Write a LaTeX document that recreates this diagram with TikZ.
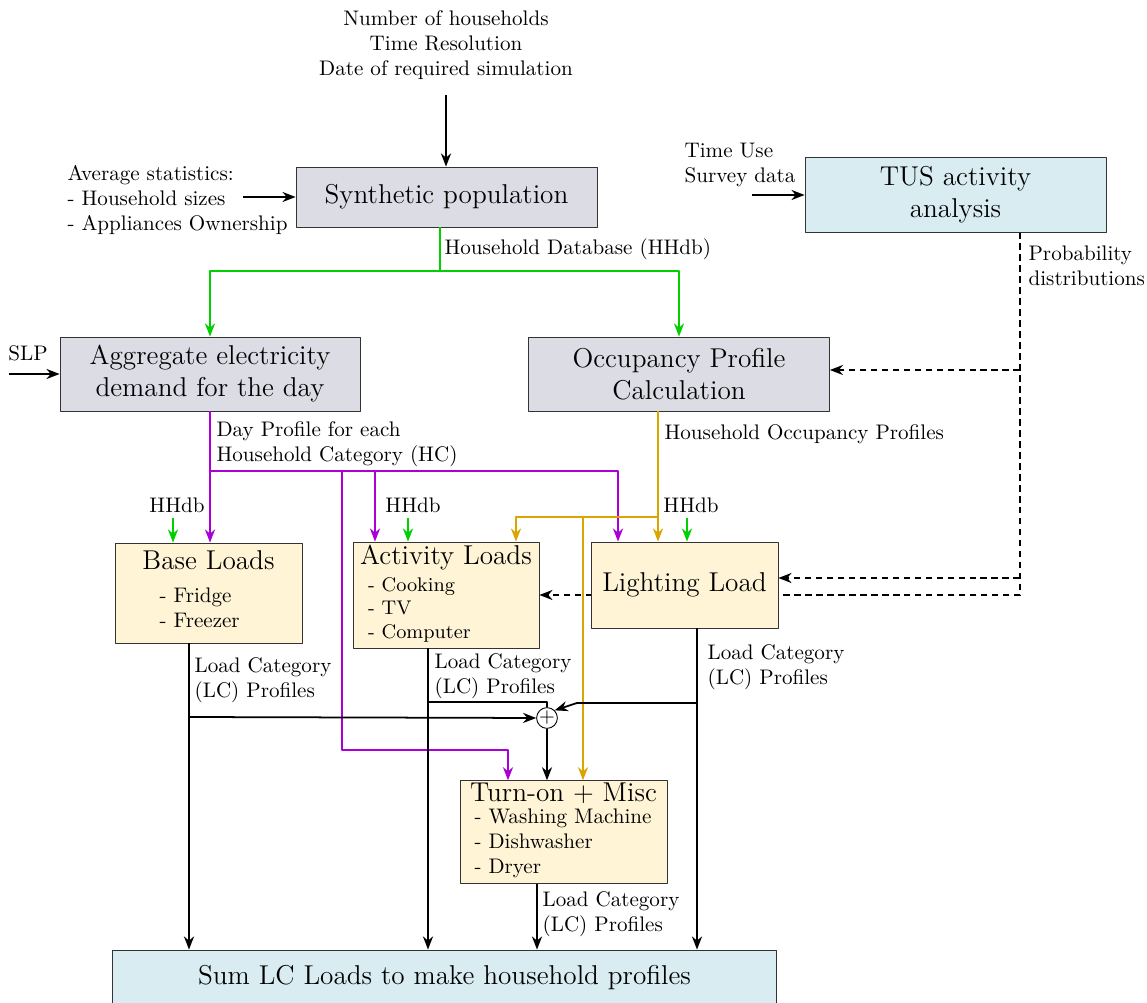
\documentclass[tikz,border=0pt]{standalone}
\usetikzlibrary{arrows.meta,backgrounds}
\definecolor{boxgray}{RGB}{220,221,228}
\definecolor{boxblue}{RGB}{216,236,242}
\definecolor{boxcream}{RGB}{255,245,214}
\definecolor{hhgreen}{RGB}{0,208,0}
\definecolor{hcpurple}{RGB}{170,0,215}
\definecolor{occgold}{RGB}{218,165,0}
\newcommand\lblfont{\fontsize{9.6}{11.4}\selectfont}
\newcommand\boxfont{\fontsize{12.4}{14.6}\selectfont}
\newcommand\itemfont{\fontsize{9}{10.7}\selectfont}
\begin{document}
\begin{tikzpicture}[x=0.016cm,y=-0.016cm,>={Stealth[length=6pt,width=4.6pt]},line join=round,font=\lblfont,
	blockbox/.style={draw=black!80,align=center,font=\boxfont,inner sep=2pt},
	lbl/.style={inner sep=1pt,align=left},
	flow/.style={->,thick},
	hhdb/.style={flow,hhgreen},
	hcline/.style={flow,hcpurple},
	occline/.style={flow,occgold},
	probline/.style={->,thick,densely dashed}]
	\useasboundingbox (0,0) rectangle (1147,1003);
	% blocks
	\node[blockbox,fill=boxgray,minimum width=4.816cm,minimum height=0.96cm] (synpop) at (446.5,197) {Synthetic population};
	\node[blockbox,fill=boxblue,minimum width=4.816cm,minimum height=1.2cm] (tus) at (955.5,194.5) {TUS activity\\analysis};
	\node[blockbox,fill=boxgray,minimum width=4.8cm,minimum height=1.184cm] (agg) at (210,374) {Aggregate electricity\\demand for the day};
	\node[blockbox,fill=boxgray,minimum width=4.816cm,minimum height=1.184cm] (occ) at (679,374) {Occupancy Profile\\Calculation};
	\node[blockbox,fill=boxcream,minimum width=2.992cm,minimum height=1.6cm] (base) at (208.5,593) {Base Loads\\[0.5pt]{\lblfont\begin{tabular}[t]{@{}l@{\hspace{8pt}}}- Fridge\\- Freezer\end{tabular}}};
	\node[blockbox,fill=boxcream,minimum width=2.976cm,minimum height=1.696cm,align=left,inner ysep=1pt] (act) at (446,595) {Activity Loads\\[-2.3pt]{\itemfont\hspace{3.6pt}\begin{tabular}[t]{@{}l@{}}- Cooking\\- TV\\- Computer\end{tabular}}};
	\node[blockbox,fill=boxcream,minimum width=2.992cm,minimum height=1.376cm] (light) at (684.5,585) {Lighting Load};
	\node[blockbox,fill=boxcream,minimum width=3.312cm,minimum height=1.632cm,align=left,inner ysep=1pt] (turn) at (563.5,832) {Turn-on + Misc\\[-4.6pt]{\lblfont\hspace{2pt}\begin{tabular}[t]{@{}l@{}}- Washing Machine\\- Dishwasher\\- Dryer\end{tabular}}};
	\node[blockbox,fill=boxblue,minimum width=10.64cm,minimum height=0.896cm] (sum) at (444.5,978) {Sum LC Loads to make household profiles};
	\node[draw,circle,inner sep=0pt,minimum size=0.29cm,font=\small] (plus) at (547,718) {$+$};
	% inputs
	\node[lbl,align=center] (simin) at (446,45) {Number of households\\Time Resolution\\Date of required simulation};
	\node[lbl,anchor=west] (avgstat) at (65,200) {Average statistics:\\- Household sizes\\- Appliances Ownership};
	\node[lbl,anchor=west] (tusin) at (682,165) {Time Use\\Survey data};
	\node[lbl] (slpin) at (28,353) {SLP};
	\coordinate (simstart) at (446,95);
	\coordinate (avgend) at (243,197);
	\coordinate (tusend) at (752,195);
	\coordinate (slpend) at (9,374);
	\draw[flow] (simstart) -- (simstart |- synpop.north);
	\draw[flow] (avgend) -- (avgend -| synpop.west);
	\draw[flow] (tusend) -- (tusend -| tus.west);
	\draw[flow] (slpend) -- (slpend -| agg.west);
	% household database
	\coordinate (hhfork) at (440,271);
	\draw[hhgreen,thick] (hhfork |- synpop.south) -- (hhfork);
	\draw[hhdb] (hhfork) -| (agg.north);
	\draw[hhdb] (hhfork) -| (occ.north);
	\node[lbl,anchor=west] (hhlbl) at (442,249) {Household Database (HHdb)};
	\coordinate (hhbase) at (173,518);
	\coordinate (hhact) at (408,518);
	\coordinate (hhlight) at (687,518);
	\draw[hhdb] (hhbase) -- (hhbase |- base.north);
	\draw[hhdb] (hhact) -- (hhact |- act.north);
	\draw[hhdb] (hhlight) -- (hhlight |- light.north);
	\node[lbl,anchor=south] (hhbaselbl) at (177,515) {HHdb};
	\node[lbl,anchor=south] (hhactlbl) at (413,515) {HHdb};
	\node[lbl,anchor=south] (hhlightlbl) at (691,515) {HHdb};
	% day profiles
	\coordinate (hcfork) at (210,471);
	\coordinate (hclight) at (618,471);
	\coordinate (hcact) at (375,471);
	\coordinate (hcturn) at (342,471);
	\coordinate (hcbend) at (508,750);
	\draw[hcline] (agg.south) -- (agg.south |- base.north);
	\draw[hcline] (hcfork) -| (hclight |- light.north);
	\draw[hcline] (hcact) -- (hcact |- act.north);
	\draw[hcline] (hcturn) |- (hcbend) -- (hcbend |- turn.north);
	\node[lbl,anchor=north west] (hclbl) at (214,419) {Day Profile for each\\Household Category (HC)};
	% occupancy
	\coordinate (occfork) at (658,517);
	\coordinate (occact) at (516,517);
	\coordinate (occturn) at (583,517);
	\draw[occline] (occfork |- occ.south) -- (occfork |- light.north);
	\draw[occline] (occfork) -| (occact |- act.north);
	\draw[occline] (occturn) -- (occturn |- turn.north);
	\node[lbl,anchor=west] (occlbl) at (662,434) {Household Occupancy Profiles};
	% probability distributions
	\coordinate (probtop) at (1020,232);
	\coordinate (probocc) at (1020,370);
	\coordinate (problight) at (1020,578);
	\begin{scope}[on background layer]
		\draw[probline] (probtop |- tus.south) |- (act.east);
	\end{scope}
	\draw[probline] (probocc) -- (probocc -| occ.east);
	\draw[probline] (problight) -- (problight -| light.east);
	\node[lbl,anchor=north west] (problbl) at (1026,243) {Probability\\distributions};
	% load categories
	\coordinate (lcbase) at (189,717);
	\coordinate (lcact) at (428,702);
	\coordinate (lclight) at (697,703);
	\coordinate (lcbend) at (577,703);
	\coordinate (lcturn) at (537,883);
	\draw[flow] (lcbase |- base.south) -- (lcbase |- sum.north);
	\draw[flow] (lcbase) -- (plus.west);
	\draw[flow] (lcact |- act.south) -- (lcact |- sum.north);
	\draw[thick] (lcact) -| (plus.north);
	\draw[flow] (lclight |- light.south) -- (lclight |- sum.north);
	\draw[flow] (lclight) -- (lcbend) -- (plus.north east);
	\draw[flow] (plus.south) -- (plus.south |- turn.north);
	\draw[flow] (lcturn |- turn.south) -- (lcturn |- sum.north);
	\node[lbl,anchor=north west] (lcbaselbl) at (192,655) {Load Category\\(LC) Profiles};
	\node[lbl,anchor=north west] (lcactlbl) at (432,651) {Load Category\\(LC) Profiles};
	\node[lbl,anchor=north west] (lclightlbl) at (705,642) {Load Category\\(LC) Profiles};
	\node[lbl,anchor=north west] (lcturnlbl) at (540,889) {Load Category\\(LC) Profiles};
\end{tikzpicture}
\end{document}
